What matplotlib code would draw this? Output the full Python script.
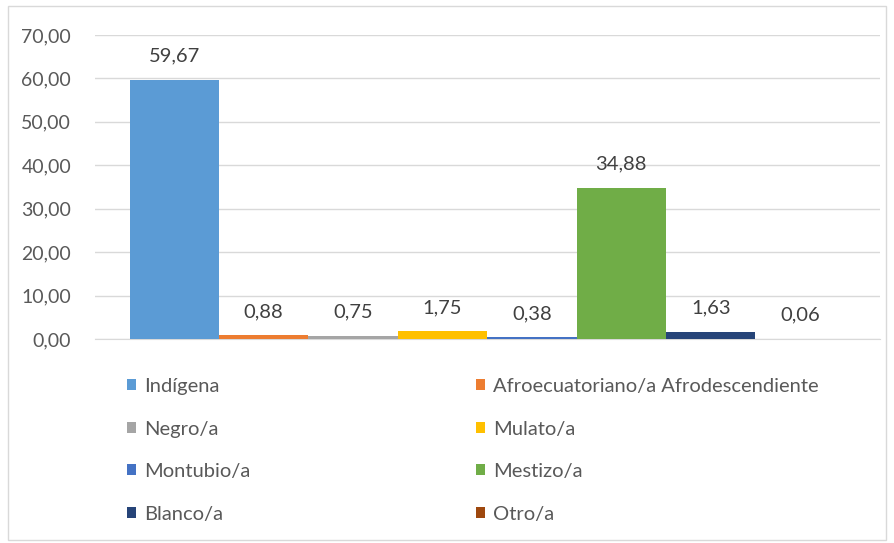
import matplotlib.pyplot as plt
from matplotlib.patches import Rectangle

plt.rcParams['font.family'] = ['Lato', 'DejaVu Sans']

# data
groups = ['Indígena', 'Afroecuatoriano/a Afrodescendiente', 'Negro/a', 'Mulato/a',
          'Montubio/a', 'Mestizo/a', 'Blanco/a', 'Otro/a']
values = [59.67, 0.88, 0.75, 1.75, 0.38, 34.88, 1.63, 0.06]
colors = ['#5B9BD5', '#ED7D31', '#A5A5A5', '#FFC000', '#4472C4', '#70AD47', '#264478', '#9E480E']
yticks = [0, 10, 20, 30, 40, 50, 60, 70]

fig = plt.figure(figsize=(8.94, 5.43), dpi=100)
ax = fig.add_axes([0.106, 0.3757, 0.878, 0.5598])

bars = []
for i, (g, v, c) in enumerate(zip(groups, values, colors)):
    b = ax.bar(i, v, width=1.0, color=c, label=g, zorder=3)
    bars.append(b)
    ax.annotate(f'{v:.2f}'.replace('.', ','), (i, v), xytext=(0, 17),
                textcoords='offset points', ha='center', va='center',
                fontsize=14.5, color='#404040')

ax.set_xlim(-0.89, 7.89)
ax.set_ylim(0, 70)
ax.set_yticks(yticks)
ax.set_yticklabels([f'{t:.2f}'.replace('.', ',') for t in yticks], fontsize=14, color='#595959')
ax.set_xticks([])
ax.tick_params(axis='y', length=0, pad=17)
ax.grid(axis='y', color='#d9d9d9', linewidth=1, zorder=0)
for s in ['top', 'right', 'left']:
    ax.spines[s].set_visible(False)
ax.spines['bottom'].set_color('#d9d9d9')

# legend: two columns (fig.legend keeps both)
h = [b[0] for b in bars]
kw = dict(loc='upper left', frameon=False, fontsize=14.5, labelcolor='#595959',
          handlelength=0.45, handleheight=0.45, handletextpad=0.4, labelspacing=1.27,
          borderpad=0, borderaxespad=0)
fig.legend([h[i] for i in (0, 2, 4, 6)], [groups[i] for i in (0, 2, 4, 6)],
           bbox_to_anchor=(0.142, 0.304), **kw)
fig.legend([h[i] for i in (1, 3, 5, 7)], [groups[i] for i in (1, 3, 5, 7)],
           bbox_to_anchor=(0.532, 0.304), **kw)

# outer frame
fig.patches.append(Rectangle((0.009, 0.006), 0.982, 0.983, transform=fig.transFigure,
                             fill=False, edgecolor='#d9d9d9', linewidth=1))

fig.savefig('out.png', dpi=100)
